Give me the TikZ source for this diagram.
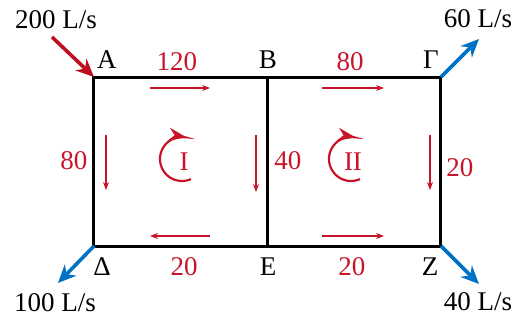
\documentclass[tikz,border=0pt]{standalone}
\usepackage{fontspec}
\setmainfont{Liberation Serif}
\usetikzlibrary{arrows.meta}
\definecolor{lblred}{RGB}{200,20,40}
\definecolor{inred}{RGB}{190,15,30}
\definecolor{outblue}{RGB}{0,114,198}
\begin{document}
\begin{tikzpicture}[x=0.5pt,y=-0.5pt,
  pipe/.style={line width=1.5pt,line cap=rect},
  flow/.style={lblred,line width=0.6pt,-{Stealth[length=4pt,width=3pt]}},
  loop/.style={lblred,line width=1.1pt,-{Stealth[length=9pt,width=6.5pt]}},
  inarrow/.style={inred,line width=1.8pt,-{Stealth[length=9pt,width=8pt]}},
  outarrow/.style={outblue,line width=1.8pt,-{Stealth[length=9pt,width=8pt]}},
  lbl/.style={font=\fontsize{13.5}{15}\selectfont,inner sep=0pt},
  num/.style={lbl,text=lblred},
  vtx/.style={lbl,text=black}]
\useasboundingbox (0,0) rectangle (532,322);
% junction coordinates
\coordinate (A) at (94,77);
\coordinate (B) at (268,77);
\coordinate (G) at (441,77);
\coordinate (D) at (94,246);
\coordinate (E) at (268,246);
\coordinate (Z) at (441,246);
% pipes
\draw[pipe] (A) -- (B) -- (G) -- (Z) -- (E) -- (D) -- cycle;
\draw[pipe] (B) -- (E);
% vertex labels
\node[vtx] (lA) at (107,60) {A};
\node[vtx] (lB) at (268,60) {B};
\node[vtx] (lG) at (431,60) {Γ};
\node[vtx] (lD) at (102,267) {Δ};
\node[vtx] (lE) at (268,267) {E};
\node[vtx] (lZ) at (430,267) {Z};
% external flows
\coordinate (inS) at (52,37);
\coordinate (outG) at (479,39);
\coordinate (outD) at (58,283);
\coordinate (outZ) at (479,284);
\draw[inarrow] (inS) -- (A);
\draw[outarrow] (G) -- (outG);
\draw[outarrow] (D) -- (outD);
\draw[outarrow] (Z) -- (outZ);
\node[vtx] (t200) at (56,20) {200 L/s};
\node[vtx] (t60) at (478,19) {60 L/s};
\node[vtx] (t100) at (55,303) {100 L/s};
\node[vtx] (t40) at (478,302) {40 L/s};
% flow values
\node[num] (q1) at (177,62) {120};
\node[num] (q2) at (350,62) {80};
\node[num] (q3) at (74,161) {80};
\node[num] (q4) at (288,161) {40};
\node[num] (q5) at (460,168) {20};
\node[num] (q6) at (184,267) {20};
\node[num] (q7) at (352,267) {20};
% flow arrows
\coordinate (f1a) at (150,88); \coordinate (f1b) at (210,88);
\coordinate (f2a) at (322,88); \coordinate (f2b) at (384,88);
\coordinate (f3a) at (106,135); \coordinate (f3b) at (106,190);
\coordinate (f4a) at (256,135); \coordinate (f4b) at (256,192);
\coordinate (f5a) at (430,135); \coordinate (f5b) at (430,190);
\coordinate (f6a) at (210,236); \coordinate (f6b) at (150,236);
\coordinate (f7a) at (322,236); \coordinate (f7b) at (384,236);
\draw[flow] (f1a) -- (f1b);
\draw[flow] (f2a) -- (f2b);
\draw[flow] (f3a) -- (f3b);
\draw[flow] (f4a) -- (f4b);
\draw[flow] (f5a) -- (f5b);
\draw[flow] (f6a) -- (f6b);
\draw[flow] (f7a) -- (f7b);
% loops (clockwise on screen, open on the right)
\draw[loop] plot[domain=66:282,samples=45,smooth] ({182+22*cos(\x)},{159+22*sin(\x)});
\draw[loop] plot[domain=66:282,samples=45,smooth] ({351+22*cos(\x)},{159+22*sin(\x)});
\node[num] (L1) at (184,162) {I};
\node[num] (L2) at (353,162) {II};
\end{tikzpicture}
\end{document}
